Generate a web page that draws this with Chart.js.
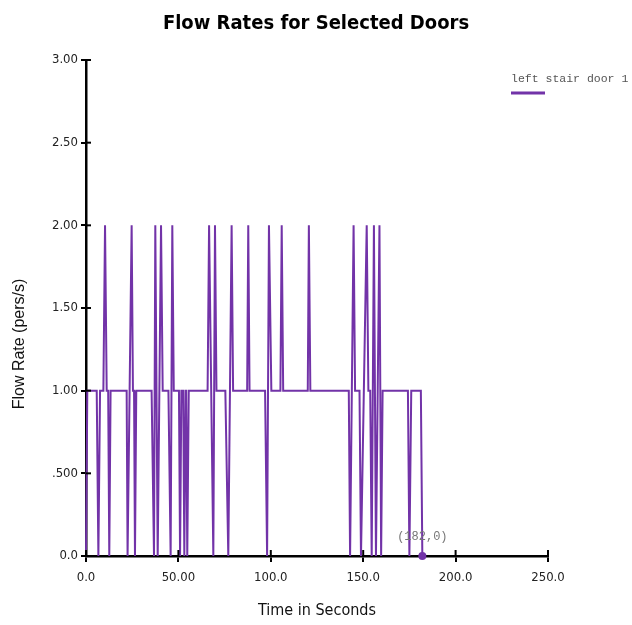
<!DOCTYPE html>
<html>
<head>
<meta charset="utf-8">
<script src="https://cdn.jsdelivr.net/npm/chart.js@4.4.1/dist/chart.umd.min.js"></script>
<style>
  html, body { margin: 0; padding: 0; background: #fff; }
  #wrap { width: 632px; height: 625px; }
</style>
</head>
<body>
<div id="wrap"><canvas id="flowChart" width="632" height="625"></canvas></div>
<script>
// Datos: tiempo (s) y caudal (pers/s)
const timesSec = [0, 0.7, 5.8, 6.7, 7.6, 9.4, 10.3, 11.2, 12.0, 12.6, 13.3,
  22.0, 22.5, 24.7, 25.4, 26.0, 26.5, 27.2, 35.5, 36.8, 37.5, 38.8, 40.6, 41.5,
  44.6, 45.8, 46.7, 47.5, 50.3, 50.9, 51.6, 52.6, 53.2, 53.9, 54.2, 54.8, 55.6,
  65.8, 66.6, 67.0, 68.9, 69.8, 70.6, 75.4, 77.0, 78.8, 79.6, 87.2, 87.8, 88.5,
  96.9, 98.0, 99.0, 100.3, 105.2, 105.9, 106.7, 120.0, 120.6, 121.4, 142.2, 142.9,
  144.8, 145.6, 148.0, 148.8, 151.9, 152.8, 153.8, 154.6, 155.8, 156.9, 158.8,
  159.7, 160.5, 174.2, 175.0, 176.0, 181.2, 182];
const flowRates = [0, 1, 1, 0, 1, 1, 2, 1, 1, 0, 1,
  1, 0, 2, 1, 1, 0, 1, 1, 0, 2, 0, 2, 1,
  1, 0, 2, 1, 1, 0, 1, 1, 0, 1, 1, 0, 1,
  1, 2, 2, 0, 2, 1, 1, 0, 2, 1, 1, 2, 1,
  1, 0, 2, 1, 1, 2, 1, 1, 2, 1, 1, 0,
  2, 1, 1, 0, 2, 1, 1, 0, 2, 0, 2,
  0, 1, 1, 0, 1, 1, 0];

const xTickLabels = ['0.0', '50.00', '100.0', '150.0', '200.0', '250.0'];
const yTickLabels = ['0.0', '.500', '1.00', '1.50', '2.00', '2.50', '3.00'];
const seriesName = 'left stair door 1';
const yTitle = 'Flow Rate (pers/s)';

const purple = '#7233a8';
const narrow = '"Liberation Sans Narrow", "DejaVu Sans Condensed", "Arial Narrow", sans-serif';
const mono = '"Liberation Mono", "DejaVu Sans Mono", monospace';

// marcas de los ejes que cruzan hacia dentro del area
const innerTicks = {
  id: 'innerTicks',
  afterDraw(chart) {
    const ctx = chart.ctx;
    const xs = chart.scales.x, ys = chart.scales.y;
    ctx.save();
    ctx.strokeStyle = '#000';
    ctx.lineWidth = 2;
    xs.ticks.forEach(function(t) {
      const px = xs.getPixelForValue(t.value);
      ctx.beginPath();
      ctx.moveTo(px, xs.top);
      ctx.lineTo(px, xs.top - 6);
      ctx.stroke();
    });
    ys.ticks.forEach(function(t) {
      const py = ys.getPixelForValue(t.value);
      ctx.beginPath();
      ctx.moveTo(ys.right, py);
      ctx.lineTo(ys.right + 5, py);
      ctx.stroke();
    });
    ctx.restore();
  }
};

// titulo del eje y, algo desplazado hacia abajo como en el original
const yAxisTitle = {
  id: 'yAxisTitle',
  afterDraw(chart) {
    const ctx = chart.ctx;
    const ys = chart.scales.y;
    ctx.save();
    ctx.translate(20, (ys.top + ys.bottom) / 2 + 36);
    ctx.rotate(-Math.PI / 2);
    ctx.font = '16px "Liberation Sans", Arial, sans-serif';
    ctx.fillStyle = '#111';
    ctx.textAlign = 'center';
    ctx.textBaseline = 'middle';
    ctx.fillText(yTitle, 0, 0);
    ctx.restore();
  }
};

// leyenda arriba a la derecha: texto encima y linea debajo
const sideLegend = {
  id: 'sideLegend',
  afterDraw(chart) {
    const ctx = chart.ctx;
    const x0 = chart.width - 121;
    ctx.save();
    ctx.font = '11.5px ' + mono;
    ctx.fillStyle = '#555';
    ctx.textAlign = 'left';
    ctx.textBaseline = 'middle';
    ctx.fillText(seriesName, x0, 79);
    ctx.strokeStyle = purple;
    ctx.lineWidth = 3;
    ctx.beginPath();
    ctx.moveTo(x0, 93);
    ctx.lineTo(x0 + 34, 93);
    ctx.stroke();
    ctx.restore();
  }
};

// etiqueta del ultimo punto
const lastPointLabel = {
  id: 'lastPointLabel',
  afterDatasetsDraw(chart) {
    const meta = chart.getDatasetMeta(0);
    const last = meta.data[meta.data.length - 1];
    const i = timesSec.length - 1;
    const ctx = chart.ctx;
    ctx.save();
    ctx.font = '12px ' + mono;
    ctx.fillStyle = '#777';
    ctx.textAlign = 'center';
    ctx.textBaseline = 'middle';
    ctx.fillText('(' + timesSec[i] + ',' + flowRates[i] + ')', last.x, last.y - 19);
    ctx.restore();
  }
};

const ctx = document.getElementById('flowChart').getContext('2d');
new Chart(ctx, {
  type: 'line',
  data: {
    datasets: [{
      label: seriesName,
      data: timesSec.map(function(t, i) { return { x: t, y: flowRates[i] }; }),
      borderColor: purple,
      backgroundColor: purple,
      borderWidth: 2,
      tension: 0,
      clip: false,
      pointRadius: function(c) { return c.dataIndex === timesSec.length - 1 ? 4 : 0; },
      pointBackgroundColor: purple,
      pointBorderWidth: 0
    }]
  },
  options: {
    responsive: false,
    animation: false,
    events: [],
    layout: { padding: 0 },
    plugins: {
      legend: { display: false },
      tooltip: { enabled: false },
      title: {
        display: true,
        text: 'Flow Rates for Selected Doors',
        color: '#000',
        font: { family: narrow, size: 20, weight: 'bold', lineHeight: 1.2 },
        padding: { top: 12, bottom: 24 }
      }
    },
    scales: {
      x: {
        type: 'linear',
        min: 0,
        max: 250,
        afterFit: function(s) { s.height = 69; },
        ticks: {
          stepSize: 50,
          color: '#222',
          padding: 8,
          maxRotation: 0,
          font: { family: narrow, size: 13 },
          callback: function(v, i) { return xTickLabels[i]; }
        },
        grid: { drawOnChartArea: false, color: '#000', lineWidth: 2, tickLength: 6 },
        border: { color: '#000', width: 2.5 },
        title: {
          display: true,
          text: 'Time in Seconds',
          color: '#111',
          font: { family: narrow, size: 16, lineHeight: 1.2 },
          padding: { top: 0, bottom: 5 }
        }
      },
      y: {
        min: 0,
        max: 3,
        afterFit: function(s) { s.width = 86; },
        ticks: {
          stepSize: 0.5,
          color: '#222',
          padding: 3,
          font: { family: narrow, size: 13 },
          callback: function(v, i) { return yTickLabels[i]; }
        },
        grid: { drawOnChartArea: false, color: '#000', lineWidth: 2, tickLength: 5 },
        border: { color: '#000', width: 2.5 },
        title: { display: false }
      },
      // eje vacio a la derecha: reserva el hueco de la leyenda
      yRight: {
        position: 'right',
        min: 0,
        max: 3,
        afterFit: function(s) { s.width = 84; },
        ticks: { display: false },
        grid: { display: false },
        border: { display: false }
      }
    }
  },
  plugins: [innerTicks, yAxisTitle, sideLegend, lastPointLabel]
});
</script>
</body>
</html>
